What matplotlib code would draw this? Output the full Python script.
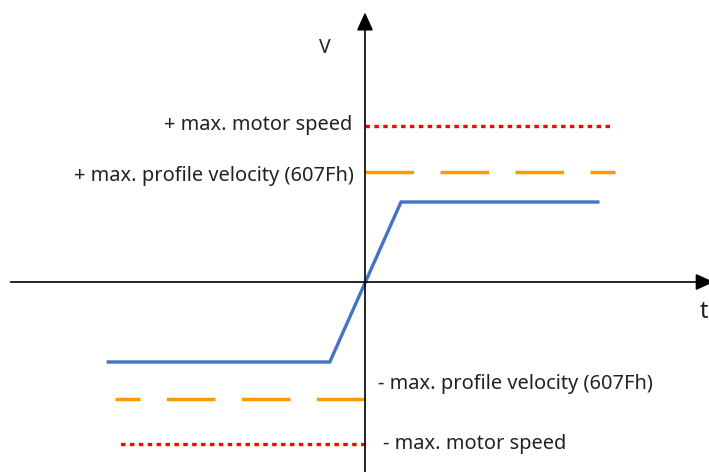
import matplotlib as mpl
mpl.use('Agg')
import matplotlib.pyplot as plt

plt.rcParams['font.family'] = ['Noto Sans', 'DejaVu Sans']
plt.rcParams['lines.scale_dashes'] = False

# velocity profile (time, velocity), 1 unit = 80 px
profile_t = [-3.21, -0.44, 0.45, 2.91]
profile_v = [-1.0, -1.0, 1.0, 1.0]

# limit lines: (velocity, t_start, t_end)
motor_pos = (1.95, 0.0, 3.08)
motor_neg = (-2.02, 0.0, -3.06)
prof_pos = (1.375, 0.0, 3.13)
prof_neg = (-1.465, 0.0, -3.12)

labels = {
    '+ max. motor speed': (-0.16, 1.96, 'right'),
    '+ max. profile velocity (607Fh)': (-0.14, 1.33, 'right'),
    '- max. profile velocity (607Fh)': (0.16, -1.28, 'left'),
    '- max. motor speed': (0.22, -2.03, 'left'),
}

fig = plt.figure(figsize=(7.09, 4.72), dpi=100)
ax = fig.add_axes([0, 0, 1, 1])
ax.set_xlim(-4.5625, 4.3)
ax.set_ylim(-2.375, 3.525)
ax.axis('off')

# axes with arrow heads
arrow = dict(arrowstyle='-|>,head_length=0.55,head_width=0.25',
             mutation_scale=20, lw=1.2, color='black', shrinkA=0, shrinkB=0)
ax.annotate('', xy=(4.36, 0), xytext=(-4.43, 0), arrowprops=arrow,
            annotation_clip=False)
ax.annotate('', xy=(0, 3.37), xytext=(0, -2.5), arrowprops=arrow,
            annotation_clip=False)

ax.plot(profile_t, profile_v, color='#4472C4', lw=2.4, solid_joinstyle='miter')

for v, t0, t1 in (prof_pos, prof_neg):
    ax.plot([t0, t1], [v, v], color='#FF9900', lw=2.5,
            dashes=(35, 19), dash_capstyle='butt')
for v, t0, t1 in (motor_pos, motor_neg):
    ax.plot([t0, t1], [v, v], color='#FF0000', lw=2.4,
            dashes=(3.2, 3.2), dash_capstyle='butt')

for txt, (x, y, ha) in labels.items():
    ax.text(x, y, txt, ha=ha, va='center', fontsize=14.4, color='#222222')

ax.text(-0.5, 2.92, 'V', ha='center', va='center', fontsize=14, color='#222222')
ax.text(4.24, -0.38, 't', ha='center', va='center', fontsize=17, color='#222222')

fig.savefig('out.png', dpi=100)
